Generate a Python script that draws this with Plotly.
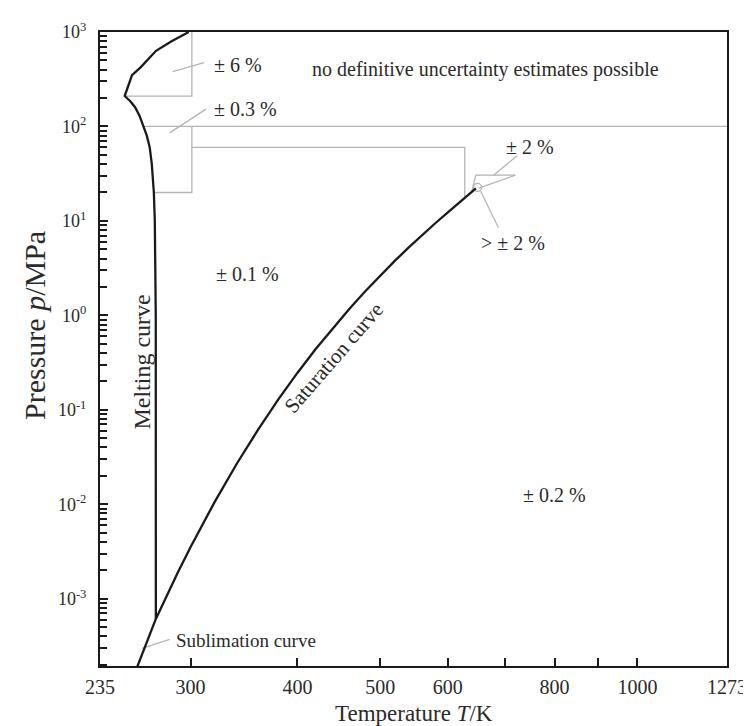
import numpy as np
import plotly.graph_objects as go

# ---- data (temperature T in K, pressure p in MPa) ----
melt_T = [273.16, 273.15, 273.1, 272.4, 271.7, 270.2, 268.7, 266.6, 264.2, 261.4, 258.3, 255.0, 251.165,
          256.164, 262.0, 267.0, 273.31, 285.0, 298.5]
melt_p = [6.1166e-4, 0.1, 1.0, 10.0, 20.0, 40.0, 60.0, 80.0, 100.0, 130.0, 160.0, 185.0, 209.9,
          350.1, 420.0, 500.0, 632.4, 800.0, 1000.0]

sat_T = [273.16, 280, 290, 300, 320, 340, 360, 380, 400, 420, 440, 460, 480, 500, 520, 540, 560,
         580, 600, 620, 640, 647.096]
sat_p = [6.11657e-4, 9.918e-4, 1.92e-3, 3.5368e-3, 0.010546, 0.027188, 0.062194, 0.12885, 0.24577,
         0.4373, 0.73367, 1.1709, 1.7905, 2.6392, 3.769, 5.2369, 7.1062, 9.448, 12.345, 15.901,
         20.265, 22.064]

subl_T = [273.16, 270.0, 265.0, 260.0, 255.0]
subl_p = [6.11657e-4, 4.70e-4, 3.06e-4, 1.96e-4, 1.23e-4]

# region boundaries (gray)
b6_T = [301, 301, 251.165]
b6_p = [1000, 209.9, 209.9]
b100_T = [264.2, 1273]
b100_p = [100, 100]
b03_T = [301, 301, 271.7]
b03_p = [100, 20, 20]
b60_T = [301, 628, 628]
b60_p = [60, 60, 17.6]
crit_T = [640.0, 647.0, 720.0, 652.0]
crit_p = [20.5, 30.5, 30.5, 22.2]
circ_T = [650.0]
circ_p = [22.6]

# leader lines
lead = [
    ([311.0, 285.8], [474, 381]),
    ([312.7, 283.5], [152.5, 85.5]),
    ([723.0, 678.5], [49.1, 30.3]),
    ([655.5, 687.6], [20.6, 8.45]),
    ([283.5, 263.3], [3.72e-4, 2.99e-4]),
]

labels = [
    ("± 6 %", 341.3, 451, 0, "center", 20),
    ("± 0.3 %", 347.5, 152.5, 0, "center", 20),
    ("no definitive uncertainty estimates possible", 664.3, 400, 0, "center", 20),
    ("± 0.1 %", 349.4, 2.72, 0, "center", 20),
    ("± 0.2 %", 799, 0.01257, 0, "center", 20),
    ("± 2 %", 748, 61, 0, "center", 20),
    ("> ± 2 %", 715.4, 5.89, 0, "center", 20),
    ("Sublimation curve", 286.6, 3.63e-4, 0, "left", 19),
    ("Saturation curve", 441, 0.351, -49, "center", 21),
    ("Melting curve", 263.3, 0.318, -90, "center", 24),
]

x_tickvals = [235, 300, 400, 500, 600, 700, 800, 900, 1000, 1273]
x_ticktext = ["235", "300", "400", "500", "600", "", "800", "", "1000", "1273"]
y_exponents = [-3, -2, -1, 0, 1, 2, 3]

FONT = "Liberation Serif"
GRAY = "#b4b4b4"
BLACK = "#1a1a1a"
TXT = "#2a2a2a"

fig = go.Figure()

for T, p in [(b6_T, b6_p), (b100_T, b100_p), (b03_T, b03_p), (b60_T, b60_p), (crit_T, crit_p)] + lead:
    fig.add_trace(go.Scatter(x=T, y=p, mode="lines", line=dict(color=GRAY, width=1.3),
                             showlegend=False, hoverinfo="skip"))

fig.add_trace(go.Scatter(x=circ_T, y=circ_p, mode="markers",
                         marker=dict(symbol="circle-open", size=8, color=GRAY, line=dict(width=1.3)),
                         showlegend=False))

for T, p in [(melt_T, melt_p), (sat_T, sat_p), (subl_T, subl_p)]:
    fig.add_trace(go.Scatter(x=T, y=p, mode="lines", line=dict(color=BLACK, width=2.3),
                             showlegend=False))

for text, T, p, ang, anchor, size in labels:
    fig.add_annotation(x=np.log10(T), y=np.log10(p), text=text, showarrow=False,
                       textangle=ang, xanchor=anchor, yanchor="middle",
                       font=dict(family=FONT, size=size, color=TXT))

# axis titles
fig.add_annotation(x=0.5, y=0, xref="paper", yref="paper", yshift=-47, yanchor="middle",
                   text="Temperature <i>T</i>/K", showarrow=False,
                   font=dict(family=FONT, size=23, color=TXT))
fig.add_annotation(x=0, y=0.5, xref="paper", yref="paper", xshift=-66, yshift=23, xanchor="center",
                   yanchor="middle", textangle=-90,
                   text="Pressure <i>p</i>/MPa", showarrow=False,
                   font=dict(family=FONT, size=30, color=TXT))

minor_y = [m * 10.0 ** e for e in range(-4, 3) for m in range(2, 10)]

fig.update_xaxes(type="log", range=[np.log10(235), np.log10(1273)],
                 tickvals=x_tickvals, ticktext=x_ticktext,
                 ticks="inside", ticklen=8, tickwidth=1.8, tickcolor=BLACK,
                 showline=True, linecolor=BLACK, linewidth=2, mirror=True,
                 showgrid=False, zeroline=False,
                 tickfont=dict(family=FONT, size=20, color=TXT), ticklabelstandoff=2)
fig.update_yaxes(type="log", range=[-3.712, 3],
                 tickvals=[10.0 ** e for e in y_exponents],
                 ticktext=["10<sup>%d</sup>" % e for e in y_exponents],
                 ticks="inside", ticklen=8, tickwidth=1.8, tickcolor=BLACK,
                 minor=dict(tickvals=minor_y, ticks="inside", ticklen=7, tickwidth=1.5,
                            tickcolor=BLACK, showgrid=False),
                 showline=True, linecolor=BLACK, linewidth=2, mirror=True,
                 showgrid=False, zeroline=False,
                 tickfont=dict(family=FONT, size=18, color=TXT), ticklabelstandoff=8)

fig.update_layout(width=751, height=726, margin=dict(l=92, r=20, t=17, b=68),
                  plot_bgcolor="white", paper_bgcolor="white", showlegend=False)

fig.write_html("out.html")
